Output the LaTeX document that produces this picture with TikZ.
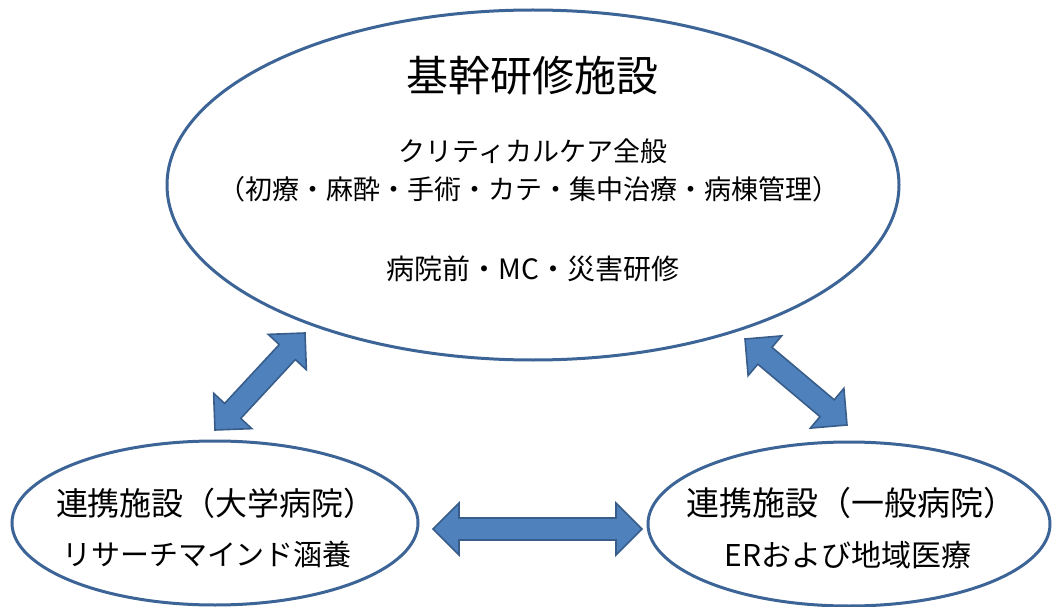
\documentclass[tikz,border=0pt]{standalone}
\usepackage{fontspec}
\setmainfont{Noto Sans CJK JP}
\usetikzlibrary{calc,shapes.geometric}
\definecolor{ringblue}{RGB}{60,100,150}
\definecolor{arrowfill}{RGB}{79,129,189}
\definecolor{arrowline}{RGB}{56,93,138}
\tikzset{
  ring/.style={draw=ringblue, line width=3pt, ellipse, inner sep=0pt},
  txt/.style={inner sep=0pt, anchor=center, text=black},
  blockarrow/.style={fill=arrowfill, draw=arrowline, line width=1.6pt, line join=miter},
}
\newcommand{\dblarrow}[2]{%
  \draw[blockarrow] (#1)
   -- ($(#1)!26pt!(#2)!26pt!90:(#2)$)
   -- ($(#1)!26pt!(#2)!11pt!90:(#2)$)
   -- ($(#2)!26pt!(#1)!11pt!-90:(#1)$)
   -- ($(#2)!26pt!(#1)!26pt!-90:(#1)$)
   -- (#2)
   -- ($(#2)!26pt!(#1)!26pt!90:(#1)$)
   -- ($(#2)!26pt!(#1)!11pt!90:(#1)$)
   -- ($(#1)!26pt!(#2)!11pt!-90:(#2)$)
   -- ($(#1)!26pt!(#2)!26pt!-90:(#2)$)
   -- cycle;}
\begin{document}
\begin{tikzpicture}[x=1pt,y=-1pt]
\useasboundingbox (0,0) rectangle (1053,607);
% ellipses
\node[ring, minimum width=732pt, minimum height=350pt] (core) at (533,185) {};
\node[ring, minimum width=406pt, minimum height=164pt] (univ) at (215,523) {};
\node[ring, minimum width=402pt, minimum height=164pt] (gen) at (849,524) {};
% texts
\node[txt, font=\fontsize{42}{44}\selectfont] (t1) at (532,76) {基幹研修施設};
\node[txt, font=\fontsize{27}{30}\selectfont] (t2) at (533,151) {クリティカルケア全般};
\node[txt, font=\fontsize{27}{30}\selectfont] (t3) at (529,189) {（初療・麻酔・手術・カテ・集中治療・病棟管理）};
\node[txt, font=\fontsize{28}{30}\selectfont] (t4) at (533,269) {病院前・MC・災害研修};
\node[txt, font=\fontsize{32}{34}\selectfont] (u1) at (216,503) {連携施設（大学病院）};
\node[txt, font=\fontsize{29}{32}\selectfont] (u2) at (207,554) {リサーチマインド涵養};
\node[txt, font=\fontsize{33}{35}\selectfont] (g1) at (851,503) {連携施設（一般病院）};
\node[txt, font=\fontsize{30}{32}\selectfont] (g2) at (848,555) {ERおよび地域医療};
% arrow ends
\coordinate (la) at (305,333);
\coordinate (lb) at (215,430);
\coordinate (ra) at (745,339);
\coordinate (rb) at (847,425);
\coordinate (ha) at (433,529);
\coordinate (hb) at (642,529);
\dblarrow{la}{lb}
\dblarrow{ra}{rb}
\dblarrow{ha}{hb}
\end{tikzpicture}
\end{document}
